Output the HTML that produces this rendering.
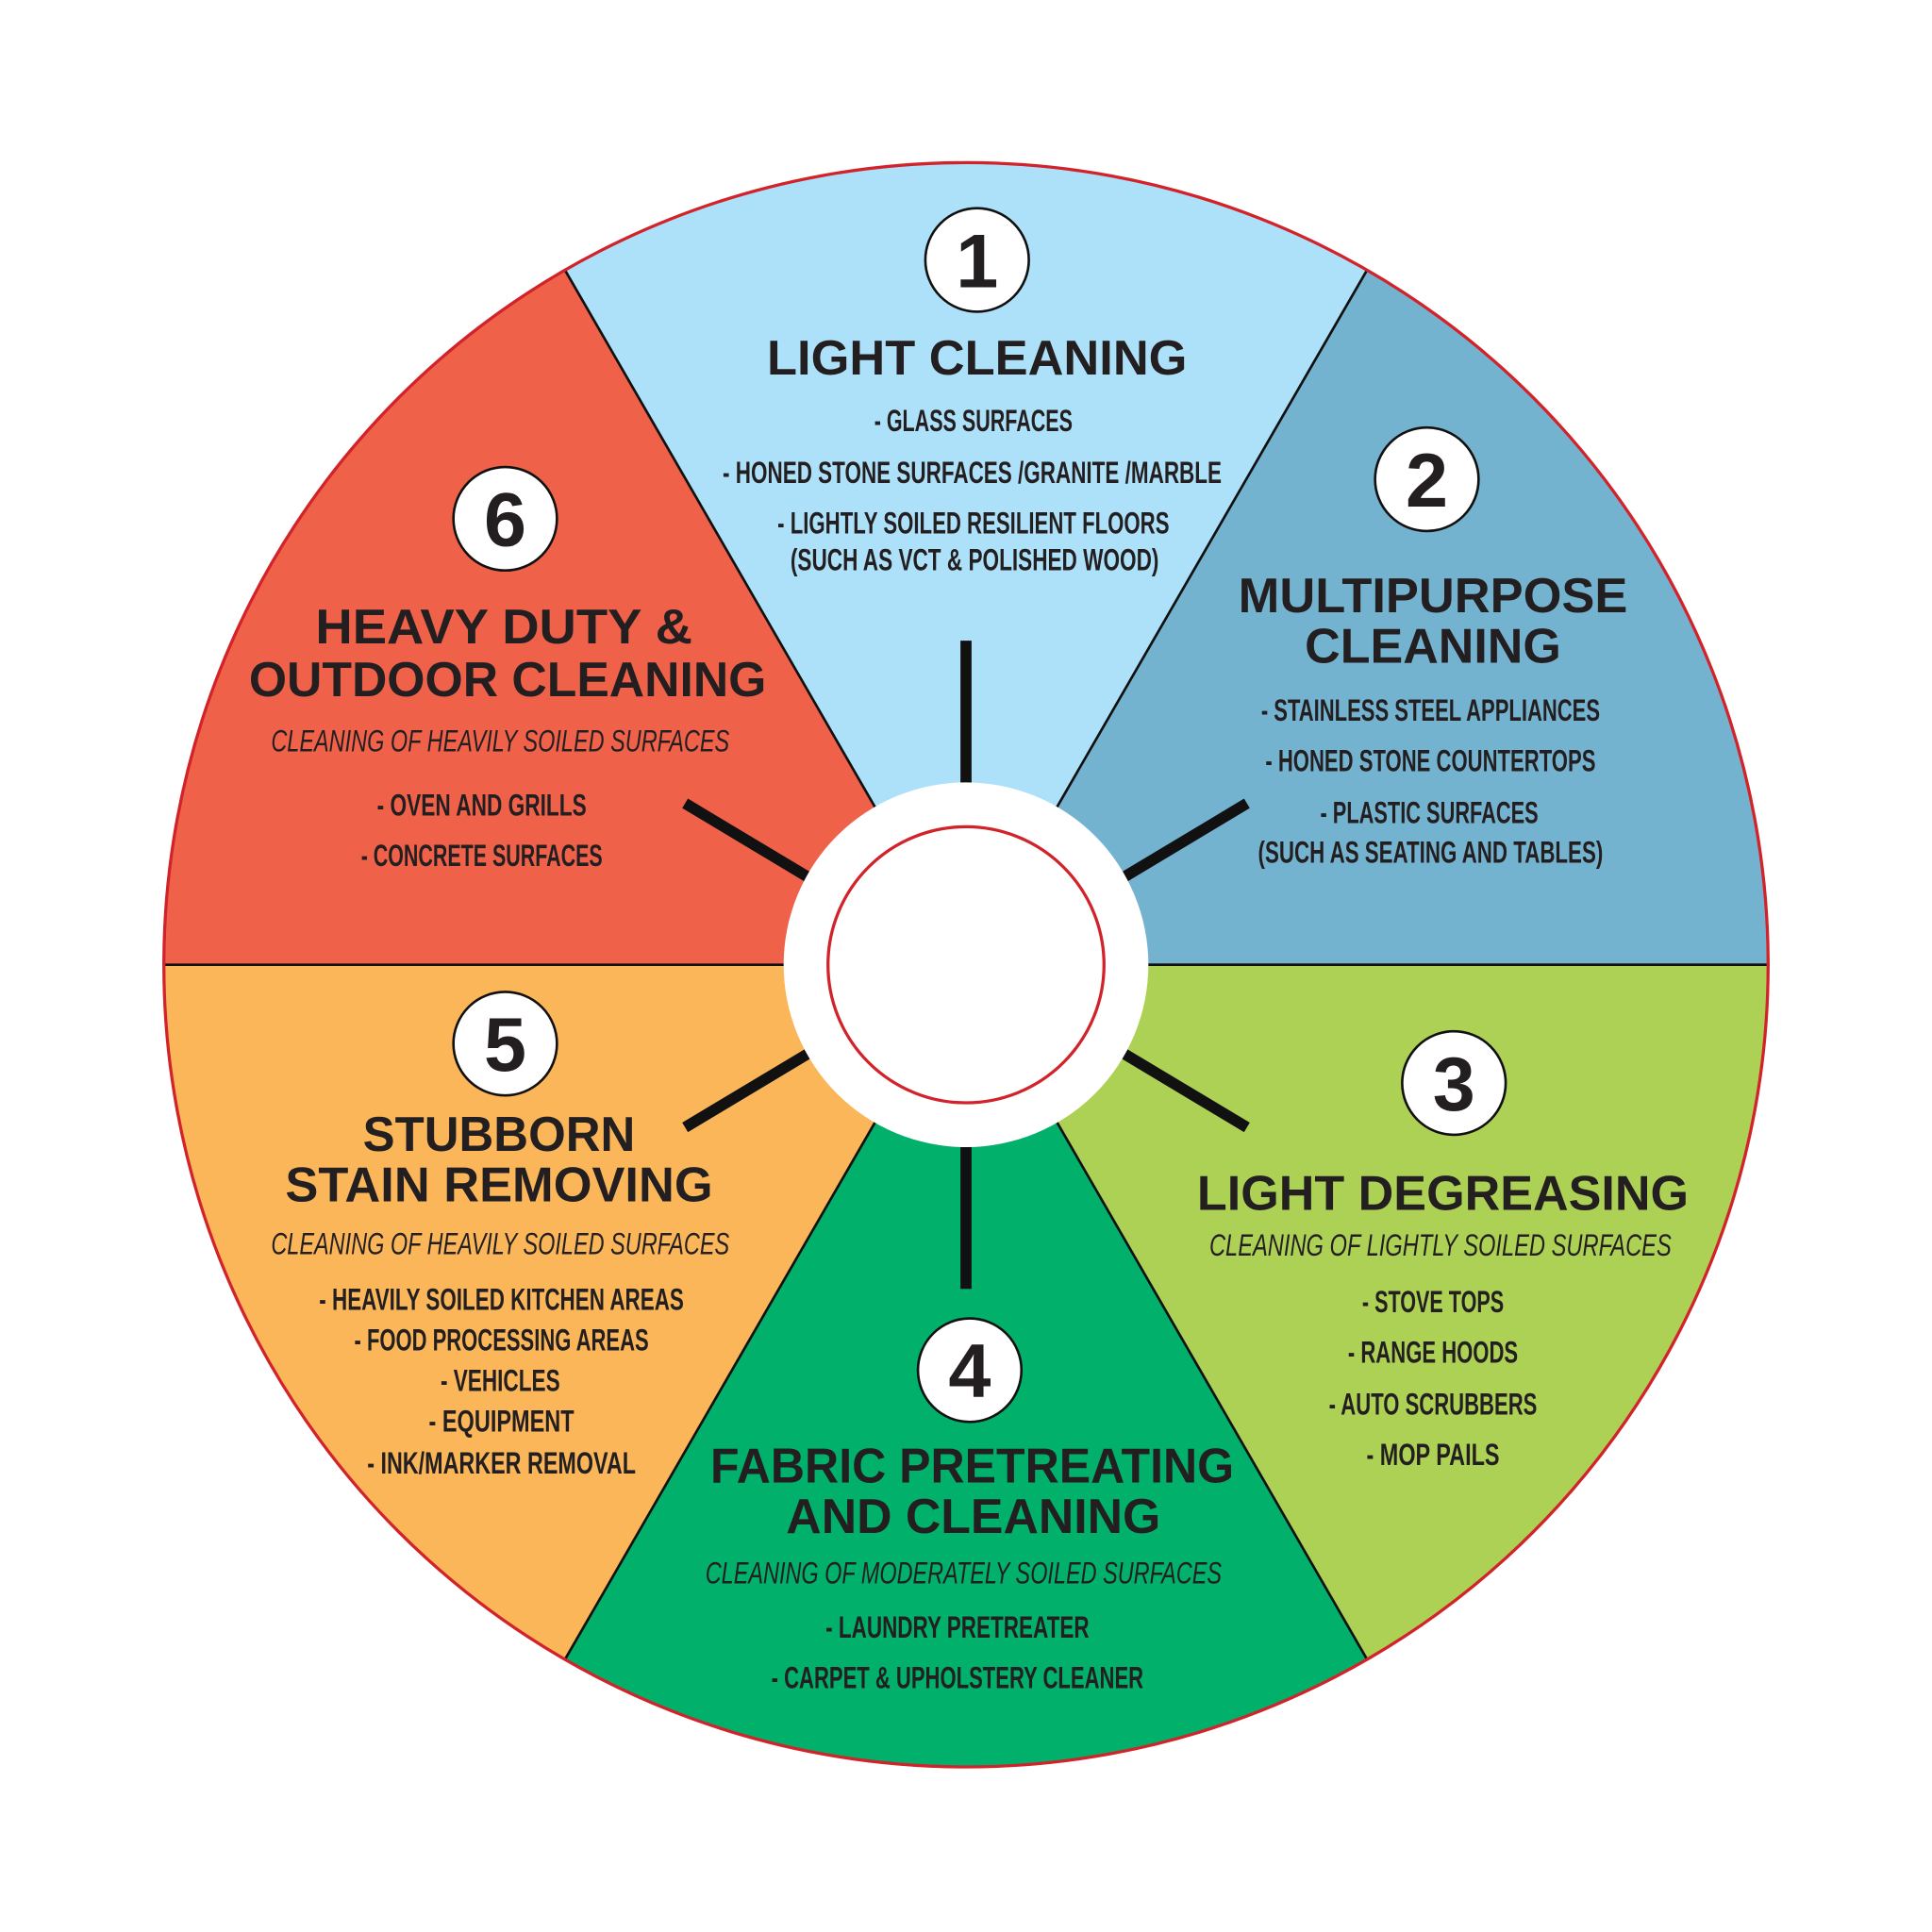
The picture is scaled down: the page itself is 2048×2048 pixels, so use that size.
<!DOCTYPE html>
<html><head><meta charset="utf-8"><style>
html,body{margin:0;padding:0;background:#fff;}
svg{display:block;}
text{font-family:"Liberation Sans Narrow","Liberation Sans",sans-serif;font-weight:bold;fill:#231f20;text-anchor:middle;}
.t{font-size:40px;font-family:"Liberation Sans",sans-serif;}
.i{font-size:25px;}
.s{font-size:25px;font-style:italic;font-weight:normal;}
.n{font-size:62px;font-family:"Liberation Sans",sans-serif;}
</style></head><body>
<svg width="2048" height="2048" viewBox="0 0 1568 1568" xmlns="http://www.w3.org/2000/svg">
<g stroke="#111" stroke-width="2">
<path d="M784 783 L1109.5 219.2 A651 651 0 0 0 458.5 219.2 Z" fill="#ade1f9"/>
<path d="M784 783 L1435 783 A651 651 0 0 0 1109.5 219.2 Z" fill="#74b3cf"/>
<path d="M784 783 L1109.5 1346.8 A651 651 0 0 0 1435 783 Z" fill="#add155"/>
<path d="M784 783 L458.5 1346.8 A651 651 0 0 0 1109.5 1346.8 Z" fill="#00b06b"/>
<path d="M784 783 L133 783 A651 651 0 0 0 458.5 1346.8 Z" fill="#fbb65a"/>
<path d="M784 783 L458.5 219.2 A651 651 0 0 0 133 783 Z" fill="#f0614a"/>
</g>
<circle cx="784" cy="783" r="651" fill="none" stroke="#d2232a" stroke-width="2.5"/>
<g stroke="#111" stroke-width="9">
<line x1="784" y1="520" x2="784" y2="636"/>
<line x1="912" y1="712" x2="1012" y2="652"/>
<line x1="912" y1="855" x2="1012" y2="915"/>
<line x1="784" y1="930" x2="784" y2="1046"/>
<line x1="656" y1="855" x2="556" y2="915"/>
<line x1="656" y1="712" x2="556" y2="652"/>
</g>
<circle cx="784" cy="783" r="148" fill="#fff"/>
<circle cx="784" cy="783" r="112" fill="#fff" stroke="#d2232a" stroke-width="2.5"/>
<g fill="#fff" stroke="#111" stroke-width="2">
<circle cx="793" cy="211" r="42"/><circle cx="1158" cy="389" r="42"/>
<circle cx="1180" cy="879" r="42"/><circle cx="787" cy="1112" r="42"/>
<circle cx="410" cy="847" r="42"/><circle cx="410" cy="421" r="42"/>
</g>
<text class="n" x="793" y="233">1</text><text class="n" x="1158" y="411">2</text>
<text class="n" x="1180" y="901">3</text><text class="n" x="787" y="1134">4</text>
<text class="n" x="410" y="869">5</text><text class="n" x="410" y="443">6</text>

<text class="t" x="793" y="304" textLength="341" lengthAdjust="spacingAndGlyphs">LIGHT CLEANING</text>
<text class="i" x="790" y="350" textLength="161" lengthAdjust="spacingAndGlyphs">- GLASS SURFACES</text>
<text class="i" x="789" y="392" textLength="405" lengthAdjust="spacingAndGlyphs">- HONED STONE SURFACES /GRANITE /MARBLE</text>
<text class="i" x="790" y="433" textLength="318" lengthAdjust="spacingAndGlyphs">- LIGHTLY SOILED RESILIENT FLOORS</text>
<text class="i" x="791" y="463" textLength="299" lengthAdjust="spacingAndGlyphs">(SUCH AS VCT &amp; POLISHED WOOD)</text>

<text class="t" x="1163" y="497" textLength="316" lengthAdjust="spacingAndGlyphs">MULTIPURPOSE</text>
<text class="t" x="1163" y="538" textLength="208" lengthAdjust="spacingAndGlyphs">CLEANING</text>
<text class="i" x="1161" y="585" textLength="275" lengthAdjust="spacingAndGlyphs">- STAINLESS STEEL APPLIANCES</text>
<text class="i" x="1161" y="626" textLength="268" lengthAdjust="spacingAndGlyphs">- HONED STONE COUNTERTOPS</text>
<text class="i" x="1160" y="668" textLength="177" lengthAdjust="spacingAndGlyphs">- PLASTIC SURFACES</text>
<text class="i" x="1161" y="700" textLength="280" lengthAdjust="spacingAndGlyphs">(SUCH AS SEATING AND TABLES)</text>

<text class="t" x="1171" y="982" textLength="399" lengthAdjust="spacingAndGlyphs">LIGHT DEGREASING</text>
<text class="s" x="1169" y="1019" textLength="375" lengthAdjust="spacingAndGlyphs">CLEANING OF LIGHTLY  SOILED SURFACES</text>
<text class="i" x="1163" y="1065" textLength="115" lengthAdjust="spacingAndGlyphs">- STOVE TOPS</text>
<text class="i" x="1163" y="1106" textLength="138" lengthAdjust="spacingAndGlyphs">- RANGE HOODS</text>
<text class="i" x="1163" y="1148" textLength="169" lengthAdjust="spacingAndGlyphs">- AUTO SCRUBBERS</text>
<text class="i" x="1163" y="1189" textLength="108" lengthAdjust="spacingAndGlyphs">- MOP PAILS</text>

<text class="t" x="789" y="1203" textLength="425" lengthAdjust="spacingAndGlyphs">FABRIC PRETREATING</text>
<text class="t" x="790" y="1244" textLength="304" lengthAdjust="spacingAndGlyphs">AND CLEANING</text>
<text class="s" x="782" y="1285" textLength="419" lengthAdjust="spacingAndGlyphs">CLEANING OF MODERATELY SOILED SURFACES</text>
<text class="i" x="777" y="1329" textLength="214" lengthAdjust="spacingAndGlyphs">- LAUNDRY PRETREATER</text>
<text class="i" x="777" y="1370" textLength="302" lengthAdjust="spacingAndGlyphs">- CARPET &amp; UPHOLSTERY CLEANER</text>

<text class="t" x="405" y="934" textLength="221" lengthAdjust="spacingAndGlyphs">STUBBORN</text>
<text class="t" x="405" y="975" textLength="347" lengthAdjust="spacingAndGlyphs">STAIN REMOVING</text>
<text class="s" x="406" y="1018" textLength="372" lengthAdjust="spacingAndGlyphs">CLEANING OF HEAVILY SOILED SURFACES</text>
<text class="i" x="407" y="1063" textLength="296" lengthAdjust="spacingAndGlyphs">- HEAVILY SOILED KITCHEN AREAS</text>
<text class="i" x="407" y="1096" textLength="239" lengthAdjust="spacingAndGlyphs">- FOOD PROCESSING AREAS</text>
<text class="i" x="406" y="1129" textLength="97" lengthAdjust="spacingAndGlyphs">- VEHICLES</text>
<text class="i" x="407" y="1162" textLength="118" lengthAdjust="spacingAndGlyphs">- EQUIPMENT</text>
<text class="i" x="407" y="1196" textLength="218" lengthAdjust="spacingAndGlyphs">- INK/MARKER REMOVAL</text>

<text class="t" x="409" y="522" textLength="306" lengthAdjust="spacingAndGlyphs">HEAVY DUTY  &amp;</text>
<text class="t" x="412" y="565" textLength="420" lengthAdjust="spacingAndGlyphs">OUTDOOR CLEANING</text>
<text class="s" x="406" y="610" textLength="372" lengthAdjust="spacingAndGlyphs">CLEANING OF HEAVILY SOILED SURFACES</text>
<text class="i" x="391" y="662" textLength="170" lengthAdjust="spacingAndGlyphs">- OVEN AND GRILLS</text>
<text class="i" x="391" y="703" textLength="196" lengthAdjust="spacingAndGlyphs">- CONCRETE SURFACES</text>
</svg>
</body></html>
